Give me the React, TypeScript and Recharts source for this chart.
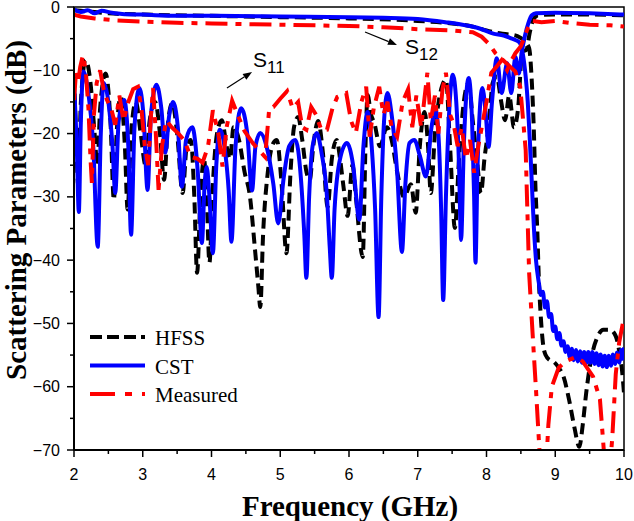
import React from 'react';
import {
  LineChart,
  Line,
  XAxis,
  YAxis,
  ReferenceArea,
  ReferenceLine,
  ReferenceDot,
  Legend,
} from 'recharts';

type Pt = [number, number];

// Frequency (GHz) / magnitude (dB) samples for each simulated and measured curve.
const hfssS11: Pt[] = [
  [2.0, -11], [2.03, -20], [2.06, -28], [2.1, -15], [2.17, -8.4], [2.24, -12], [2.3, -20], [2.34, -25],
  [2.38, -16], [2.46, -10.5], [2.53, -18], [2.58, -30.5], [2.62, -20], [2.68, -14.2], [2.74, -22], [2.78, -32],
  [2.83, -20], [2.9, -15], [2.97, -20], [3.04, -25], [3.1, -18], [3.18, -15], [3.25, -20], [3.31, -27.3],
  [3.37, -18], [3.43, -15.2], [3.5, -20], [3.58, -29.4], [3.64, -22], [3.7, -21], [3.75, -30], [3.79, -42],
  [3.84, -30], [3.89, -24], [3.93, -30], [3.97, -40.4], [4.02, -28], [4.08, -20], [4.15, -17.9], [4.22, -22],
  [4.27, -24], [4.32, -19], [4.4, -21], [4.48, -26], [4.56, -30], [4.63, -38], [4.68, -44], [4.71, -47.4],
  [4.75, -36], [4.82, -26], [4.9, -21.5], [4.95, -21], [5.02, -28], [5.09, -38.9], [5.15, -26], [5.2, -19],
  [5.26, -17.4], [5.32, -21], [5.38, -26], [5.43, -27.3], [5.48, -22], [5.55, -18], [5.62, -23], [5.69, -31.6],
  [5.75, -24], [5.82, -21], [5.87, -24], [5.92, -28.4], [5.98, -33], [6.05, -25], [6.1, -30], [6.2, -39.5],
  [6.24, -22], [6.27, -13.9], [6.32, -17], [6.37, -18.4], [6.45, -22], [6.55, -19], [6.62, -21], [6.7, -26],
  [6.8, -30], [6.9, -28], [6.97, -32.5], [7.03, -22], [7.1, -16.6], [7.15, -22], [7.19, -29.4], [7.25, -20],
  [7.32, -14], [7.41, -11.5], [7.47, -22], [7.54, -34.9], [7.6, -24], [7.67, -15], [7.74, -12], [7.8, -18],
  [7.86, -24], [7.92, -29.4], [7.97, -24], [8.03, -19], [8.09, -12], [8.15, -11], [8.21, -14.7], [8.27, -17.9],
  [8.33, -14], [8.4, -19], [8.46, -16], [8.52, -7], [8.58, -6.8], [8.63, -4], [8.68, -2], [8.75, -1.3],
  [9.0, -1.2], [9.5, -1.2], [10.0, -1.3],
];

const hfssS12: Pt[] = [
  [2.0, -0.5], [2.2, -0.7], [2.5, -1.0], [3.0, -1.2], [4.0, -1.4], [5.0, -1.6], [6.0, -1.8], [7.0, -2.2],
  [7.5, -2.6], [7.8, -3.1], [8.0, -3.7], [8.15, -4.1], [8.3, -4.3], [8.45, -4.6], [8.55, -5.4], [8.62, -6.5],
  [8.66, -12], [8.69, -20], [8.71, -27.8], [8.74, -35.7], [8.76, -42.6], [8.79, -49], [8.82, -53], [8.86, -55],
  [8.92, -55.8], [8.97, -56], [9.05, -57], [9.12, -58.4], [9.2, -62], [9.28, -66.5], [9.35, -69.5], [9.4, -66],
  [9.45, -61], [9.5, -57], [9.54, -54.7], [9.62, -52], [9.7, -51], [9.8, -51], [9.88, -52], [9.94, -55],
  [9.97, -57.3], [10.0, -61],
];

const cstS11: Pt[] = [
  [2.0, -12], [2.04, -22], [2.07, -32.4], [2.1, -18], [2.135, -10.2], [2.2, -13], [2.28, -22], [2.345, -37.9],
  [2.39, -20], [2.43, -12], [2.5, -15], [2.56, -22], [2.6, -29.4], [2.65, -18], [2.73, -14.7], [2.79, -22],
  [2.83, -36], [2.88, -19], [2.95, -12.8], [3.01, -17], [3.07, -28.9], [3.12, -17], [3.2, -12.3], [3.27, -16],
  [3.33, -23], [3.38, -17.5], [3.44, -15], [3.51, -19], [3.57, -28.4], [3.63, -21], [3.72, -19], [3.8, -26],
  [3.86, -37.3], [3.9, -28], [3.93, -25.3], [3.97, -30], [4.02, -38.9], [4.07, -25], [4.12, -19.4], [4.2, -23],
  [4.25, -29], [4.29, -37.1], [4.35, -22], [4.43, -16], [4.52, -20], [4.59, -29], [4.64, -22], [4.71, -19.9],
  [4.8, -22], [4.9, -28], [4.97, -34.2], [5.05, -27], [5.13, -22], [5.22, -21], [5.3, -27], [5.35, -36],
  [5.38, -42.8], [5.42, -30], [5.47, -22], [5.53, -19.9], [5.6, -23], [5.68, -30], [5.72, -38], [5.75, -42.8],
  [5.79, -32], [5.87, -24], [5.97, -21.5], [6.06, -25], [6.15, -33.6], [6.21, -22], [6.27, -16.6], [6.33, -22],
  [6.38, -32], [6.43, -49], [6.47, -30], [6.51, -18], [6.56, -13.6], [6.62, -17], [6.7, -26], [6.77, -38.7],
  [6.82, -28], [6.88, -21.5], [6.95, -21], [7.03, -23.5], [7.12, -26.8], [7.2, -19], [7.26, -16.3], [7.31, -22],
  [7.34, -32], [7.37, -46.3], [7.41, -30], [7.46, -16], [7.51, -10.7], [7.56, -15], [7.6, -25], [7.63, -36.8],
  [7.67, -22], [7.74, -11.2], [7.79, -18], [7.82, -30], [7.84, -40.4], [7.87, -25], [7.94, -12.8], [7.99, -17],
  [8.03, -22.1], [8.08, -15], [8.15, -8.1], [8.22, -13.6], [8.3, -8.9], [8.36, -13.6], [8.42, -7.9], [8.47, -10.5],
  [8.51, -7.3], [8.56, -4.5], [8.61, -2.5], [8.66, -1.3], [8.72, -1.0], [9.0, -0.9], [9.5, -1.0], [10.0, -1.2],
];

const cstS12: Pt[] = [
  [2.0, -0.4], [2.1, -0.8], [2.2, -0.5], [2.3, -1.0], [2.4, -0.6], [2.55, -0.9], [2.7, -1.1], [3.0, -1.2],
  [3.5, -1.4], [4.0, -1.4], [5.0, -1.5], [6.0, -1.6], [6.5, -1.7], [7.0, -1.9], [7.4, -2.4], [7.7, -2.9],
  [7.9, -3.4], [8.1, -4.2], [8.25, -4.5], [8.35, -4.9], [8.42, -5.2], [8.48, -5.6], [8.53, -7.5], [8.57, -11],
  [8.6, -15], [8.63, -21], [8.66, -28], [8.69, -35], [8.72, -40], [8.76, -43.5], [8.79, -45.5], [8.82, -45],
  [8.85, -47.5], [8.88, -46.5], [8.91, -49], [8.94, -48.5], [8.97, -51.2], [9.0, -50.5], [9.03, -52.5], [9.06, -51.5],
  [9.09, -53.5], [9.12, -52.8], [9.15, -54.5], [9.18, -53.6], [9.21, -55.3], [9.24, -54], [9.27, -55.8], [9.3, -54.2],
  [9.33, -56], [9.36, -54.4], [9.39, -56.2], [9.42, -54.5], [9.45, -56.3], [9.48, -54.5], [9.51, -56.2], [9.54, -54.5],
  [9.57, -56.4], [9.6, -54.7], [9.63, -56.6], [9.66, -54.9], [9.69, -56.8], [9.72, -55.1], [9.75, -56.9], [9.78, -55.1],
  [9.81, -56.7], [9.84, -54.9], [9.87, -56.4], [9.9, -54.6], [9.93, -56.2], [9.96, -54.2], [9.98, -55.6], [10.0, -53.8],
];

const measS11: Pt[] = [
  [2.0, -14.7], [2.03, -10.2], [2.06, -12], [2.09, -9.5], [2.13, -7.6], [2.17, -10], [2.21, -16], [2.24, -24],
  [2.26, -27.8], [2.29, -17], [2.33, -12], [2.38, -10], [2.43, -13], [2.48, -14.7], [2.54, -16], [2.6, -18.6],
  [2.66, -14], [2.72, -18], [2.79, -15], [2.86, -13], [2.93, -12.6], [2.98, -16], [3.03, -22], [3.08, -25],
  [3.12, -17], [3.15, -12.8], [3.19, -20], [3.23, -28.9], [3.28, -22], [3.34, -17.9], [3.42, -19], [3.51, -19.9],
  [3.6, -21], [3.7, -23.7], [3.8, -24], [3.87, -24.6], [3.95, -22], [4.02, -16.3], [4.1, -20], [4.16, -25.2],
  [4.22, -19], [4.3, -14.8], [4.38, -17], [4.48, -19.6], [4.6, -21.5], [4.72, -23], [4.78, -23.7], [4.84, -16],
  [4.9, -15.8], [5.0, -14.5], [5.1, -13.3], [5.18, -16], [5.26, -15], [5.32, -19], [5.38, -19.4], [5.45, -15.8],
  [5.52, -17], [5.6, -19.5], [5.68, -19.4], [5.76, -16], [5.83, -14.2], [5.96, -13.6], [6.03, -18], [6.1, -19.9],
  [6.18, -15], [6.25, -12.6], [6.3, -20.5], [6.36, -16], [6.44, -12.6], [6.5, -17], [6.56, -15], [6.62, -19],
  [6.7, -20.5], [6.78, -15], [6.86, -13], [6.92, -19], [6.98, -14], [7.05, -19], [7.14, -10.4], [7.19, -18],
  [7.25, -14], [7.3, -20], [7.36, -13], [7.41, -10.4], [7.47, -17], [7.52, -18.4], [7.58, -22], [7.64, -19],
  [7.7, -24], [7.76, -21], [7.82, -26.2], [7.88, -22], [7.95, -17.9], [8.0, -15], [8.07, -10.4], [8.14, -9.5],
  [8.22, -8.4], [8.3, -10], [8.36, -8.5], [8.42, -7.3], [8.5, -6.2], [8.56, -4.5], [8.62, -2.8], [8.67, -2.2],
  [8.8, -2.4], [9.0, -2.2], [9.2, -2.5], [9.5, -2.8], [9.8, -2.9], [10.0, -3.1],
];

const measS12: Pt[] = [
  [2.0, -1.2], [2.1, -1.5], [2.3, -1.8], [2.6, -2.1], [3.0, -2.3], [3.5, -2.5], [4.0, -2.6], [5.0, -2.8],
  [5.5, -2.9], [6.0, -3.0], [6.5, -3.2], [7.0, -3.5], [7.5, -3.7], [7.8, -4.0], [7.93, -4.7], [8.05, -6],
  [8.13, -7.3], [8.25, -8.5], [8.35, -9.5], [8.42, -10.2], [8.49, -12.6], [8.52, -16.3], [8.57, -22.6], [8.59, -30.5],
  [8.62, -42], [8.67, -51.5], [8.72, -60.5], [8.77, -70], [8.82, -75], [8.86, -74], [8.9, -66], [8.95, -60],
  [9.05, -57], [9.15, -56], [9.3, -55.3], [9.4, -56], [9.55, -58.4], [9.65, -62], [9.72, -72], [9.78, -75],
  [9.83, -68], [9.88, -58], [9.93, -53], [10.0, -49],
];

// Axis ticks (major every 1 GHz / 10 dB, minor halfway).
const freqTicks = [2, 2.5, 3, 3.5, 4, 4.5, 5, 5.5, 6, 6.5, 7, 7.5, 8, 8.5, 9, 9.5, 10];
const dbTicks = [-70, -65, -60, -55, -50, -45, -40, -35, -30, -25, -20, -15, -10, -5, 0];

// Annotations: arrow tail, arrow head and label anchor in data units.
const s11Arrow: Pt[] = [[4.225, -12.8], [4.59, -10.27]];
const s11Label: Pt = [4.604, -9.48];
const s12Arrow: Pt[] = [[6.233, -3.95], [6.698, -6.0]];
const s12Label: Pt = [6.815, -7.42];

const legendItems = [
  { name: 'HFSS', color: '#000000', dash: '12 5' },
  { name: 'CST', color: '#0000ff', dash: undefined },
  { name: 'Measured', color: '#ff0000', dash: '25 10 7 10' },
];

const toPts = (a: Pt[]) => a.map(([f, db]) => ({ f, db }));

const SANS = '"Liberation Sans", Arial, sans-serif';
const SERIF = '"Liberation Serif", "Times New Roman", serif';

const XTick = (props: any) => {
  const { x, y, payload } = props;
  const v = payload.value as number;
  const major = Number.isInteger(v);
  return (
    <g>
      <line x1={x} x2={x} y1={y} y2={y + (major ? 7 : 4)} stroke="#000" strokeWidth={1.5} />
      {major && (
        <text x={x} y={y + 30} textAnchor="middle" fontFamily={SANS} fontSize={16} fill="#000">
          {v}
        </text>
      )}
    </g>
  );
};

const YTick = (props: any) => {
  const { x, y, payload } = props;
  const v = payload.value as number;
  const major = v % 10 === 0;
  return (
    <g>
      <line x1={x} x2={x - (major ? 7 : 4)} y1={y} y2={y} stroke="#000" strokeWidth={1.5} />
      {major && (
        <text x={x - 14} y={y + 5.5} textAnchor="end" fontFamily={SANS} fontSize={16} fill="#000">
          {v === 0 ? '0' : `\u2212${Math.abs(v)}`}
        </text>
      )}
    </g>
  );
};

const Arrow = (props: any) => {
  const { x1, y1, x2, y2 } = props;
  const ang = Math.atan2(y2 - y1, x2 - x1);
  const len = 9;
  const half = 3.5;
  const bx = x2 - len * Math.cos(ang);
  const by = y2 - len * Math.sin(ang);
  const px = -Math.sin(ang) * half;
  const py = Math.cos(ang) * half;
  return (
    <g>
      <line x1={x1} y1={y1} x2={bx} y2={by} stroke="#000" strokeWidth={1.2} />
      <polygon points={`${x2},${y2} ${bx + px},${by + py} ${bx - px},${by - py}`} fill="#000" />
    </g>
  );
};

const sLabel = (sub: string) => (props: any) => {
  const { cx, cy } = props;
  return (
    <text x={cx} y={cy} fontFamily={SANS} fontSize={21} fill="#000">
      S
      <tspan dy={6} fontSize={17}>
        {sub}
      </tspan>
    </text>
  );
};

const LegendBox = () => (
  <svg width={200} height={90}>
    {legendItems.map((it, i) => {
      const y = 15 + i * 28.5;
      return (
        <g key={it.name}>
          <line x1={5} x2={60} y1={y} y2={y} stroke={it.color} strokeWidth={4} strokeDasharray={it.dash} />
          <text x={70} y={y + 8} fontFamily={SERIF} fontSize={21} fill="#000">
            {it.name}
          </text>
        </g>
      );
    })}
  </svg>
);

export default function App() {
  return (
    <div style={{ position: 'absolute', left: 0, top: 0, width: 634, height: 521, background: '#fff' }}>
      <LineChart width={634} height={521} margin={{ top: 7, right: 10, bottom: 0, left: 0 }}>
        <XAxis
          dataKey="f"
          type="number"
          domain={[2, 10]}
          ticks={freqTicks}
          interval={0}
          allowDataOverflow
          height={71}
          tickSize={0}
          tickMargin={0}
          tickLine={false}
          tick={<XTick />}
          axisLine={{ stroke: '#000', strokeWidth: 2 }}
          label={{
            content: () => (
              <text x={350} y={516} textAnchor="middle" fontFamily={SERIF} fontWeight="bold" fontSize={29} fill="#000">
                Frequency (GHz)
              </text>
            ),
          }}
        />
        <YAxis
          type="number"
          domain={[-70, 0]}
          ticks={dbTicks}
          interval={0}
          allowDataOverflow
          width={74}
          tickSize={0}
          tickMargin={0}
          tickLine={false}
          tick={<YTick />}
          axisLine={{ stroke: '#000', strokeWidth: 2 }}
          label={{
            content: () => (
              <text
                x={26}
                y={210}
                transform="rotate(-90 26 210)"
                textAnchor="middle"
                fontFamily={SERIF}
                fontWeight="bold"
                fontSize={29}
                fill="#000"
              >
                Scattering Parameters (dB)
              </text>
            ),
          }}
        />
        <ReferenceArea x1={2} x2={10} y1={-70} y2={0} fill="none" stroke="#000" strokeWidth={1.5} />

        <Line data={toPts(hfssS12)} dataKey="db" type="monotone" stroke="#000" strokeWidth={4} strokeDasharray="11 6" dot={false} isAnimationActive={false} legendType="none" />
        <Line data={toPts(hfssS11)} dataKey="db" type="monotone" stroke="#000" strokeWidth={4} strokeDasharray="11 6" dot={false} isAnimationActive={false} legendType="none" />
        <Line data={toPts(cstS12)} dataKey="db" type="monotone" stroke="#0000ff" strokeWidth={4} dot={false} isAnimationActive={false} legendType="none" />
        <Line data={toPts(cstS11)} dataKey="db" type="monotone" stroke="#0000ff" strokeWidth={4} dot={false} isAnimationActive={false} legendType="none" />
        <Line data={toPts(measS12)} dataKey="db" type="linear" stroke="#ff0000" strokeWidth={4} strokeDasharray="22 8 6 8" dot={false} isAnimationActive={false} legendType="none" />
        <Line data={toPts(measS11)} dataKey="db" type="linear" stroke="#ff0000" strokeWidth={4} strokeDasharray="22 8 6 8" dot={false} isAnimationActive={false} legendType="none" />

        <ReferenceLine
          segment={[{ x: s11Arrow[0][0], y: s11Arrow[0][1] }, { x: s11Arrow[1][0], y: s11Arrow[1][1] }]}
          shape={Arrow}
        />
        <ReferenceLine
          segment={[{ x: s12Arrow[0][0], y: s12Arrow[0][1] }, { x: s12Arrow[1][0], y: s12Arrow[1][1] }]}
          shape={Arrow}
        />
        <ReferenceDot x={s11Label[0]} y={s11Label[1]} r={0} shape={sLabel('11')} />
        <ReferenceDot x={s12Label[0]} y={s12Label[1]} r={0} shape={sLabel('12')} />

        <Legend
          layout="vertical"
          align="center"
          verticalAlign="middle"
          content={<LegendBox />}
          wrapperStyle={{ left: 85, top: 322, width: 200, height: 90 }}
        />
      </LineChart>
    </div>
  );
}
